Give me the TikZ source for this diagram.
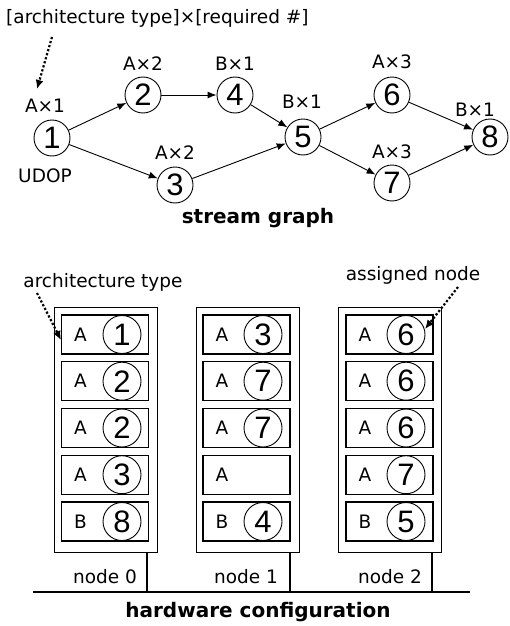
\documentclass[tikz,border=0pt]{standalone}
\usepackage{fontspec}
\setmainfont{DejaVu Sans}
\newfontfamily\digitfont{Liberation Sans}
\usetikzlibrary{arrows.meta}

\tikzset{
  lab/.style={font=\fontsize{18.5}{21}\selectfont, inner sep=0pt},
  num/.style={circle, draw, line width=0.9pt, minimum size=36pt, inner sep=0pt,
    font=\digitfont\fontsize{31}{33}\selectfont},
  flow/.style={-{Latex[length=9pt,width=7pt]}, line width=0.9pt},
  hint/.style={-{Latex[length=9pt,width=8pt]}, dotted, line width=2.2pt},
  slotbox/.style={draw, line width=1.2pt, minimum width=87pt, minimum height=39pt,
    text width=62pt, inner xsep=12.5pt, inner ysep=0pt, align=left,
    font=\fontsize{18.5}{21}\selectfont},
  rack/.style={draw, line width=1pt, minimum width=103pt, minimum height=245pt, inner sep=0pt},
  drop/.style={line width=1.6pt},
  bus/.style={line width=2.2pt},
  title/.style={font=\bfseries\fontsize{20}{22}\selectfont, inner sep=0pt},
}

\begin{document}
\begin{tikzpicture}[x=1pt, y=-1pt]
\useasboundingbox (0,0) rectangle (509,626);

% stream graph
\node[lab, anchor=west] (legend) at (6,18) {[architecture type]×[required \#]};
\coordinate (h1a) at (52,37);
\coordinate (h1b) at (37,89);
\draw[hint] (h1a) -- (h1b);

\node[num] (n1) at (52,138) {1};
\node[num] (n2) at (143,95) {2};
\node[num] (n3) at (175,185) {3};
\node[num] (n4) at (235,95) {4};
\node[num] (n5) at (303,137) {5};
\node[num] (n6) at (392,95) {6};
\node[num] (n7) at (392,183) {7};
\node[num] (n8) at (490,137) {8};

\node[lab] (l1) at (45,106) {A×1};
\node[lab] (l2) at (143,64) {A×2};
\node[lab] (l3) at (175,153) {A×2};
\node[lab] (l4) at (235,64) {B×1};
\node[lab] (l5) at (302,102) {B×1};
\node[lab] (l6) at (392,62) {A×3};
\node[lab] (l7) at (392,152) {A×3};
\node[lab] (l8) at (475,110) {B×1};
\node[lab] (udop) at (45,176) {UDOP};

\draw[flow] (n1) -- (n2);
\draw[flow] (n1) -- (n3);
\draw[flow] (n2) -- (n4);
\draw[flow] (n4) -- (n5);
\draw[flow] (n3) -- (n5);
\draw[flow] (n5) -- (n6);
\draw[flow] (n5) -- (n7);
\draw[flow] (n6) -- (n8);
\draw[flow] (n7) -- (n8);

\node[title] (sg) at (258,218) {stream graph};

% hardware configuration
\node[lab] (archtype) at (103,282) {architecture type};
\node[lab] (assigned) at (413,275) {assigned node};

\node[rack] (r0) at (105.5,429.5) {};
\node[rack] (r1) at (247.5,429.5) {};
\node[rack] (r2) at (390,429.5) {};

% node 0
\node[slotbox] (s0a) at (105,334.5) {A};
\node[num, minimum size=38pt] (c0a) at (122,334.5) {1};
\node[slotbox] (s0b) at (105,381.2) {A};
\node[num, minimum size=38pt] (c0b) at (122,381.2) {2};
\node[slotbox] (s0c) at (105,428) {A};
\node[num, minimum size=38pt] (c0c) at (122,428) {2};
\node[slotbox] (s0d) at (105,474.7) {A};
\node[num, minimum size=38pt] (c0d) at (122,474.7) {3};
\node[slotbox] (s0e) at (105,521.5) {B};
\node[num, minimum size=38pt] (c0e) at (122,521.5) {8};

% node 1
\node[slotbox] (s1a) at (246.5,334.5) {A};
\node[num, minimum size=38pt] (c1a) at (263,334.5) {3};
\node[slotbox] (s1b) at (246.5,381.2) {A};
\node[num, minimum size=38pt] (c1b) at (263,381.2) {7};
\node[slotbox] (s1c) at (246.5,428) {A};
\node[num, minimum size=38pt] (c1c) at (263,428) {7};
\node[slotbox] (s1d) at (246.5,474.7) {A};
\node[slotbox] (s1e) at (246.5,521.5) {B};
\node[num, minimum size=38pt] (c1e) at (263,521.5) {4};

% node 2
\node[slotbox] (s2a) at (389.5,334.5) {A};
\node[num, minimum size=38pt] (c2a) at (406,334.5) {6};
\node[slotbox] (s2b) at (389.5,381.2) {A};
\node[num, minimum size=38pt] (c2b) at (406,381.2) {6};
\node[slotbox] (s2c) at (389.5,428) {A};
\node[num, minimum size=38pt] (c2c) at (406,428) {6};
\node[slotbox] (s2d) at (389.5,474.7) {A};
\node[num, minimum size=38pt] (c2d) at (406,474.7) {7};
\node[slotbox] (s2e) at (389.5,521.5) {B};
\node[num, minimum size=38pt] (c2e) at (406,521.5) {5};

\coordinate (h2a) at (37,293);
\coordinate (h2b) at (61,340);
\draw[hint] (h2a) -- (h2b);
\coordinate (h3a) at (458,287);
\coordinate (h3b) at (425,329);
\draw[hint] (h3a) -- (h3b);

\coordinate (p0) at (147,552);
\coordinate (p1) at (290,552);
\coordinate (p2) at (432,552);
\coordinate (t0) at (147,592);
\coordinate (t1) at (290,592);
\coordinate (t2) at (432,592);
\coordinate (busl) at (33,592);
\coordinate (busr) at (470,592);
\draw[drop] (p0) -- (t0);
\draw[drop] (p1) -- (t1);
\draw[drop] (p2) -- (t2);
\draw[bus] (busl) -- (busr);

\node[lab] (nd0) at (105,577) {node 0};
\node[lab] (nd1) at (246,577) {node 1};
\node[lab] (nd2) at (390,577) {node 2};

\node[title] (hc) at (258,612) {hardware configuration};

\end{tikzpicture}
\end{document}
